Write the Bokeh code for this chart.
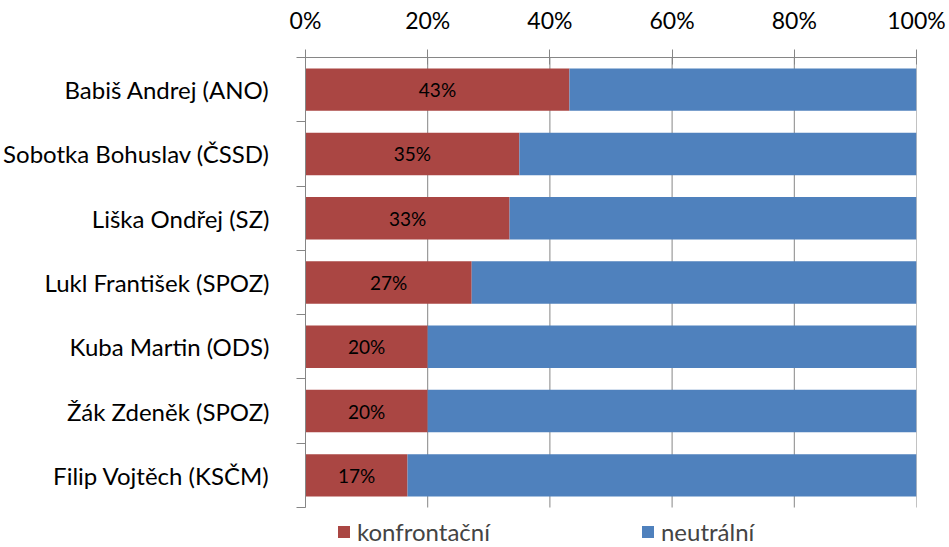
from bokeh.plotting import figure
from bokeh.models import (Range1d, LinearAxis, FixedTicker,
                          PrintfTickFormatter, Legend, LegendItem, ColumnDataSource)
from bokeh.core.properties import value
from bokeh.embed import file_html
from bokeh.resources import INLINE

names = ["Babiš Andrej (ANO)", "Sobotka Bohuslav (ČSSD)", "Liška Ondřej (SZ)",
         "Lukl František (SPOZ)", "Kuba Martin (ODS)", "Žák Zdeněk (SPOZ)",
         "Filip Vojtěch (KSČM)"]
konfrontacni = [43.2, 35.0, 33.4, 27.2, 20.0, 20.0, 16.7]
neutralni = [100 - v for v in konfrontacni]
labels = ["43%", "35%", "33%", "27%", "20%", "20%", "17%"]
x_ticks = [0, 20, 40, 60, 80, 100]

RED = "#AA4643"
BLUE = "#4F81BD"
GRAY = "#868686"
FONT = "Lato"

n = len(names)
ypos = [n - 0.5 - i for i in range(n)]

# frame: 450 px for the bars, 40 px strip below for the legend
ROW_PX = 450 / n
LEGEND_STRIP = 40 / ROW_PX

src = ColumnDataSource(dict(y=ypos, konfrontacni=konfrontacni, neutralni=neutralni,
                            label=labels, mid=[v / 2 for v in konfrontacni]))

p = figure(width=949, height=547, y_range=Range1d(-LEGEND_STRIP, n),
           x_range=Range1d(0, 100), x_axis_location="above", y_axis_location=None,
           output_backend="svg", toolbar_location=None,
           min_border_left=305, min_border_right=33, min_border_top=57, min_border_bottom=0)
p.outline_line_color = None
p.background_fill_color = "white"
p.xgrid.grid_line_color = None
p.ygrid.grid_line_color = None

# vertical gridlines limited to the bar area
p.segment(x0=x_ticks, y0=[0] * len(x_ticks), x1=x_ticks, y1=[n] * len(x_ticks),
          line_color=GRAY, line_width=1)

rs = p.hbar_stack(["konfrontacni", "neutralni"], y="y", height=0.66, color=[RED, BLUE],
                  line_color=None, source=src)

p.text(x="mid", y="y", text="label", source=src, text_align="center", text_baseline="middle",
       text_font=value(FONT), text_font_size="19px", text_color="black")

# top axis
ax = p.xaxis[0]
ax.ticker = FixedTicker(ticks=x_ticks)
ax.formatter = PrintfTickFormatter(format="%d%%")
ax.axis_line_color = GRAY
ax.major_tick_line_color = GRAY
ax.major_tick_in = 7
ax.major_tick_out = 8
ax.minor_tick_line_color = None
ax.major_label_text_font = FONT
ax.major_label_text_font_size = "23px"
ax.major_label_text_color = "black"
ax.major_label_standoff = 16

# left axis: labels at band centres, tick marks at band boundaries
yax = LinearAxis(ticker=FixedTicker(ticks=ypos, minor_ticks=list(range(n + 1))),
                 major_label_overrides={y: nm for y, nm in zip(ypos, names)},
                 bounds=(0, n),
                 axis_line_color=GRAY, major_tick_line_color=None, major_tick_out=0, major_tick_in=0,
                 minor_tick_line_color=GRAY, minor_tick_out=9, minor_tick_in=0,
                 major_label_text_font=FONT, major_label_text_font_size="24px",
                 major_label_text_color="black", major_label_standoff=27)
p.add_layout(yax, "left")

legend = Legend(items=[LegendItem(label="konfrontační", renderers=[rs[0]]),
                       LegendItem(label="neutrální", renderers=[rs[1]])],
                orientation="horizontal", location=(31, 1), spacing=150,
                glyph_width=15, glyph_height=15, label_standoff=6,
                label_text_font=FONT, label_text_font_size="24px",
                padding=0, margin=0, border_line_color=None, background_fill_alpha=0)
p.add_layout(legend, "center")

open("out.html", "w").write(file_html(p, INLINE))
